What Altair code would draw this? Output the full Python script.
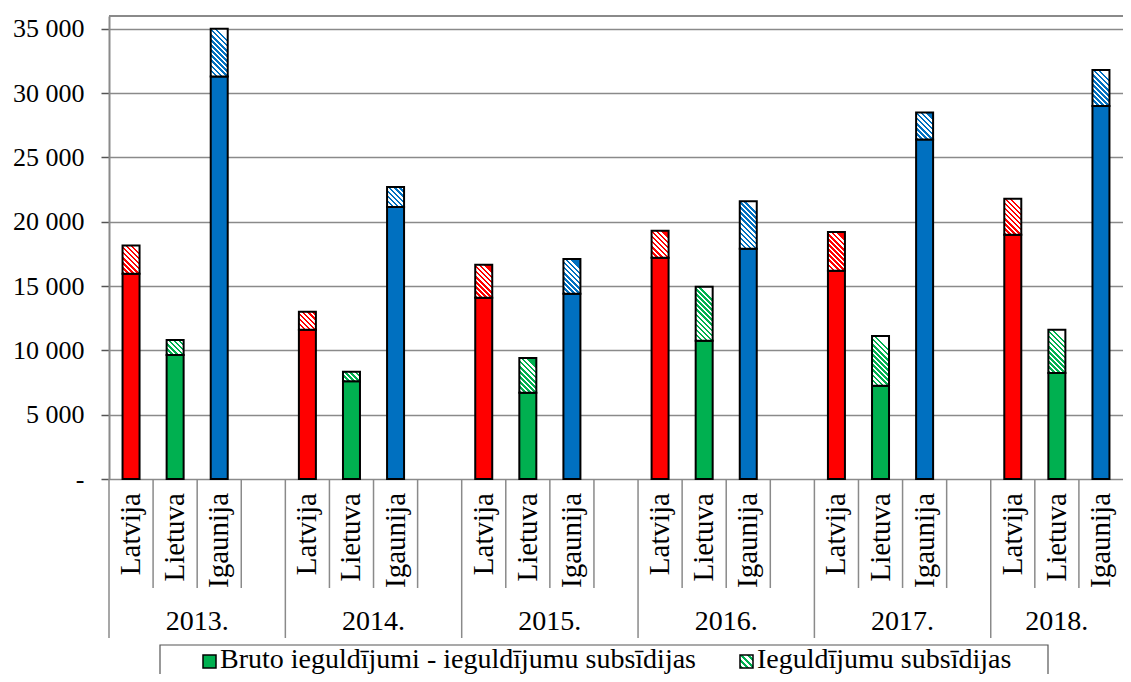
import math
import altair as alt
import pandas as pd

# ---------------- data ----------------
years = ["2013.", "2014.", "2015.", "2016.", "2017.", "2018."]
countries = ["Latvija", "Lietuva", "Igaunija"]
country_colors = ["#FF0000", "#00B050", "#0070C0"]

# Bruto ieguldījumi - ieguldījumu subsīdijas
latvija_base = [15950, 11600, 14100, 17200, 16200, 19000]
lietuva_base = [9650, 7600, 6700, 10750, 7250, 8250]
igaunija_base = [31300, 21150, 14400, 17900, 26400, 29000]
# Ieguldījumu subsīdijas
latvija_sub = [2200, 1400, 2550, 2100, 3000, 2800]
lietuva_sub = [1150, 730, 2700, 4200, 3870, 3350]
igaunija_sub = [3700, 1550, 2700, 3700, 2100, 2800]

y_ticks = [0, 5000, 10000, 15000, 20000, 25000, 30000, 35000]
legend_labels = ["Bruto ieguldījumi - ieguldījumu subsīdijas", "Ieguldījumu subsīdijas"]

# ---------------- layout / style ----------------
FONT = "Liberation Serif, Times New Roman, serif"
PLOT_H = 463
Y_MAX = 36000
VIEW_W = 1014
BAR_W = 17
GRID = "#8a8a8a"

base_vals = {"Latvija": latvija_base, "Lietuva": lietuva_base, "Igaunija": igaunija_base}
sub_vals = {"Latvija": latvija_sub, "Lietuva": lietuva_sub, "Igaunija": igaunija_sub}
col_of = dict(zip(countries, country_colors))

slot_keys, slot_rows, bar_rows = [], [], []
for yi, yr in enumerate(years):
    group = [f"{yr} {c}" for c in countries]
    if yi < len(years) - 1:
        group.append(f"{yr} _")
    for j, key in enumerate(group):
        slot_keys.append(key)
        slot_rows.append({"slot": key, "year": yr, "year_start": j == 0,
                          "group_n": len(group), "pos": j})
    for ci, c in enumerate(countries):
        b = base_vals[c][yi]
        s = sub_vals[c][yi]
        bar_rows.append({"slot": f"{yr} {c}", "year": yr, "country": c,
                         "base": b, "sub": s, "total": b + s})

bars_df = pd.DataFrame(bar_rows)
slots_df = pd.DataFrame(slot_rows)

xscale = alt.Scale(domain=slot_keys, paddingInner=0, paddingOuter=0)
yscale = alt.Scale(domain=[0, Y_MAX], nice=False, zero=True)


def xenc(**kw):
    return alt.X("slot:N", scale=xscale, axis=None, **kw)


def hatch(color, h, w=BAR_W, period=3.6):
    h = max(h, 1.0)
    d = (w * w / h + h) / math.sqrt(2)
    n = d / period
    stops = []
    k = 0
    while True:
        a, b, c = k / n, (k + 0.5) / n, (k + 1) / n
        if a >= 1:
            break
        stops.append({"offset": a, "color": color})
        stops.append({"offset": min(b, 1), "color": color})
        if b >= 1:
            break
        stops.append({"offset": b, "color": "#ffffff"})
        stops.append({"offset": min(c, 1), "color": "#ffffff"})
        k += 1
    return {"gradient": "linear", "x1": 0, "y1": 1, "x2": w / h, "y2": 0, "stops": stops}


yaxis = alt.Axis(
    values=y_ticks, grid=True, gridColor=GRID, gridWidth=1.5,
    domainColor=GRID, domainWidth=2, tickColor="#555555", tickSize=8, tickWidth=1.5,
    labelFont=FONT, labelFontSize=26, labelColor="black", labelPadding=17,
    title=None,
    labelExpr="datum.value == 0 ? '-' : replace(format(datum.value, ','), ',', ' ')",
)

base = alt.Chart(bars_df)

bars = base.mark_bar(width=BAR_W, stroke="black", strokeWidth=2).encode(
    x=xenc(),
    y=alt.Y("base:Q", stack=None, scale=yscale, axis=yaxis),
    color=alt.Color("country:N", scale=alt.Scale(domain=countries, range=country_colors), legend=None),
)

hatched_layers = []
for r in bar_rows:
    h_px = r["sub"] * PLOT_H / Y_MAX
    hatched_layers.append(
        base.transform_filter(alt.datum.slot == r["slot"]).mark_bar(
            width=BAR_W, fill=hatch(col_of[r["country"]], h_px), stroke="black", strokeWidth=2
        ).encode(
            x=xenc(),
            y=alt.Y("base:Q", stack=None, scale=yscale, axis=yaxis),
            y2="total:Q",
        )
    )

one = alt.Chart(pd.DataFrame({"k": [0]}))
top_border = one.mark_rule(color=GRID, strokeWidth=2).encode(
    x=alt.value(0), x2=alt.value(VIEW_W), y=alt.value(0)
)

slots = alt.Chart(slots_df)
country_seps = slots.transform_filter("!datum.year_start").mark_rule(color=GRID, strokeWidth=1.5).encode(
    x=xenc(bandPosition=0), y=alt.value(PLOT_H), y2=alt.value(572)
)
year_seps = slots.transform_filter("datum.year_start").mark_rule(color=GRID, strokeWidth=1.5).encode(
    x=xenc(bandPosition=0), y=alt.value(PLOT_H), y2=alt.value(622)
)

country_labels = base.mark_text(
    angle=270, align="right", baseline="middle", font=FONT, fontSize=29, color="black"
).encode(x=xenc(), y=alt.value(477), text="country:N")

year_labels4 = slots.transform_filter("datum.pos == 2 && datum.group_n == 4").mark_text(
    align="center", baseline="middle", font=FONT, fontSize=28, color="black"
).encode(x=xenc(bandPosition=0), y=alt.value(606), text="year:N")
year_labels3 = slots.transform_filter("datum.pos == 1 && datum.group_n == 3").mark_text(
    align="center", baseline="middle", font=FONT, fontSize=28, color="black"
).encode(x=xenc(bandPosition=0.5), y=alt.value(606), text="year:N")

# legend (drawn by hand so the hatched swatch can be shown)
leg_df = pd.DataFrame({"label": legend_labels, "i": [0, 1]})
leg = alt.Chart(leg_df)
leg_box = one.mark_rect(fill="white", stroke="#555555", strokeWidth=1.2).encode(
    x=alt.value(51), x2=alt.value(939), y=alt.value(629), y2=alt.value(700)
)
sw1 = one.mark_rect(fill="#00B050", stroke="black", strokeWidth=1.5).encode(
    x=alt.value(94), x2=alt.value(107), y=alt.value(639), y2=alt.value(652)
)
sw2 = one.mark_rect(fill=hatch("#00B050", 13, 13, 4.5), stroke="black", strokeWidth=1.5).encode(
    x=alt.value(631), x2=alt.value(644), y=alt.value(639), y2=alt.value(652)
)
lt1 = leg.transform_filter("datum.i == 0").mark_text(
    align="left", baseline="middle", font=FONT, fontSize=28, color="black"
).encode(x=alt.value(111), y=alt.value(644), text="label:N")
lt2 = leg.transform_filter("datum.i == 1").mark_text(
    align="left", baseline="middle", font=FONT, fontSize=28, color="black"
).encode(x=alt.value(648), y=alt.value(644), text="label:N")

chart = alt.layer(
    bars, *hatched_layers, top_border, country_seps, year_seps,
    country_labels, year_labels4, year_labels3,
    leg_box, sw1, sw2, lt1, lt2,
).properties(
    width=VIEW_W, height=PLOT_H,
    padding={"left": 101, "top": 8, "right": 0, "bottom": 195},
    autosize=alt.AutoSizeParams(type="none"),
    background="white",
).configure_view(stroke=None)

chart.save("out.html", embed_options={"renderer": "svg", "actions": False})
